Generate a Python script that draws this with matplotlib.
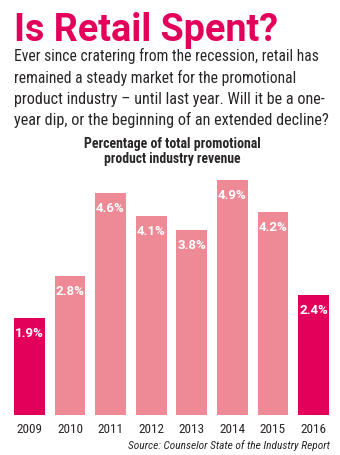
import matplotlib
matplotlib.use("Agg")
import matplotlib.pyplot as plt
from matplotlib import font_manager

years = ["2009", "2010", "2011", "2012", "2013", "2014", "2015", "2016"]
values = [1.9, 2.8, 4.6, 4.1, 3.8, 4.9, 4.2, 2.4]
labels = ["1.9%", "2.8%", "4.6%", "4.1%", "3.8%", "4.9%", "4.2%", "2.4%"]
highlight = [True, False, False, False, False, False, False, True]

title = "Is Retail Spent?"
body = ["Ever since cratering from the recession, retail has",
        "remained a steady market for the promotional",
        "product industry \u2013 until last year. Will it be a one-",
        "year dip, or the beginning of an extended decline?"]
subtitle = ["Percentage of total promotional", "product industry revenue"]
source = "Source: Counselor State of the Industry Report"

MAGENTA = "#E3005B"
PINK = "#EE8996"
DARK = "#2A2627"

avail = {f.name for f in font_manager.fontManager.ttflist}
cond = None
for c in ["DejaVu Sans Condensed", "Liberation Sans Narrow", "Roboto Condensed", "Open Sans Condensed"]:
    if c in avail:
        cond = c
        break
if cond is None:
    cond = "Roboto"
bold_font = "Roboto" if "Roboto" in avail else "DejaVu Sans"

W, H = 340, 455
fig = plt.figure(figsize=(W / 100, H / 100), dpi=100)
fig.patch.set_facecolor("white")

def px(x, y):
    return x / W, 1 - y / H

renderer = fig.canvas.get_renderer()

def fit_text(x, y, s, target_w, size, **kw):
    t = fig.text(*px(x, y), s, fontsize=size, **kw)
    bb = t.get_window_extent(renderer=renderer)
    if bb.width > 0:
        t.set_fontsize(size * target_w / bb.width)
    return t

# Title
fit_text(14, 41, title, 264, 25, color=MAGENTA, fontweight="bold",
         family=bold_font, va="baseline", ha="left")

# Body
body_y = [61, 82.5, 104, 125]
body_w = [304, 282, 310, 316]
for s, y, w in zip(body, body_y, body_w):
    fit_text(14, y, s, w, 11, color=DARK, family=cond, va="baseline", ha="left")

# Subtitle
for s, y, w in zip(subtitle, [148, 163], [178, 137]):
    fit_text(172, y, s, w, 9.5, color=DARK, family=cond, fontweight="bold",
             va="baseline", ha="center")

# Axes
AXIS_FLOOR = -0.21
ax = fig.add_axes([14 / W, (H - 415) / H, 315 / W, 240 / H])
ax.set_xlim(-0.38, len(years) - 1 + 0.38)
ax.set_ylim(AXIS_FLOOR, 5.0)
xs = list(range(len(years)))
colors = [MAGENTA if h else PINK for h in highlight]
heights = [v - AXIS_FLOOR for v in values]
ax.bar(xs, heights, bottom=AXIS_FLOOR, width=0.76, color=colors, edgecolor="none")
for x, v, lab in zip(xs, values, labels):
    ax.annotate(lab, (x, v), xytext=(0, -19), textcoords="offset pixels",
                ha="center", va="baseline", color="white", fontweight="bold",
                fontsize=9.5, family=bold_font)
ax.set_xticks(xs)
ax.set_xticklabels(years, fontsize=9.5, color=DARK, family=cond)
ax.tick_params(axis="x", length=0, pad=6)
ax.set_yticks([])
for sp in ax.spines.values():
    sp.set_visible(False)
ax.patch.set_alpha(0)

# Source
fit_text(330, 449, source, 202, 8.5, color=DARK, family=cond, style="italic",
         va="baseline", ha="right")

fig.savefig("out.png", dpi=100, facecolor="white")
